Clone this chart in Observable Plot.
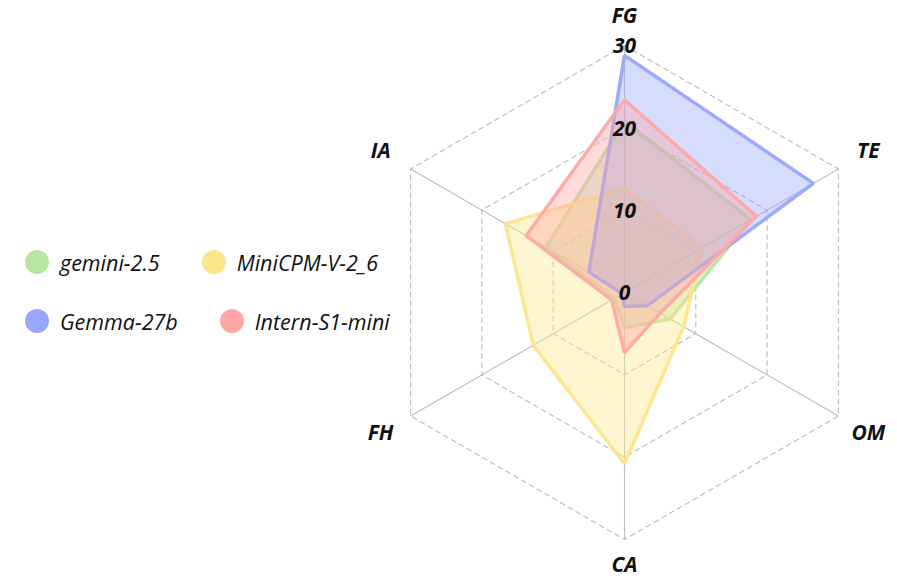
<!DOCTYPE html>
<html>
<head>
<meta charset="utf-8">
<script src="https://cdn.jsdelivr.net/npm/d3@7"></script>
<script src="https://cdn.jsdelivr.net/npm/@observablehq/plot@0.6"></script>
<style>
  html, body { margin: 0; padding: 0; background: #fff; }
  #wrap { position: relative; width: 897px; height: 580px; font-family: "Open Sans", sans-serif; }
  #legend { position: absolute; left: 25px; top: 246px; font-style: italic; font-size: 21.5px; color: #111; }
  .row { display: flex; align-items: center; height: 32px; margin-bottom: 27px; }
  .item { display: flex; align-items: center; margin-right: 42px; }
  .sw { width: 24px; height: 24px; border-radius: 50%; margin-right: 11px; }
</style>
</head>
<body>
<div id="wrap"></div>
<script>
const axesNames = ["FG", "TE", "OM", "CA", "FH", "IA"];
const axisAngles = [90, 30, -30, -90, -150, 150];
const seriesNames = ["gemini-2.5", "MiniCPM-V-2_6", "Gemma-27b", "Intern-S1-mini"];
const seriesColors = ["#b7e6a0", "#fde58c", "#97a7fb", "#ffa6a6"];
const gemini = [20.8, 17.7, 6.4, 4.3, 1.4, 11.0];
const minicpm = [12.6, 10.9, 8.3, 20.8, 12.8, 16.7];
const gemma = [28.8, 26.5, 3.2, 1.7, 0.3, 5.0];
const intern = [23.4, 18.5, 5.0, 7.3, 1.8, 13.8];
const gridLevels = [10, 20, 30];
const tickLabels = ["0", "10", "20", "30"];
const tickValues = [0, 10, 20, 30];
const maxValue = 30;

const W = 897, H = 580, cx = 624, cy = 292, Rpx = 247;
const k = Rpx / maxValue;
const rad = a => a * Math.PI / 180;
const polar = (r, i) => ({x: r * Math.cos(rad(axisAngles[i])), y: r * Math.sin(rad(axisAngles[i]))});
// label distance from centre (in value units): sides slightly farther, top/bottom kept inside the frame
const labelDist = i => axisAngles[i] === 90 ? 33.5 : axisAngles[i] === -90 ? 33.1 : 34.2;

const seriesValues = [gemini, minicpm, gemma, intern];
const polys = [];
seriesValues.forEach((vals, s) => {
  vals.forEach((v, i) => polys.push({series: seriesNames[s], ...polar(v, i)}));
});
const grid = [];
gridLevels.forEach(l => axesNames.forEach((a, i) => grid.push({level: l, ...polar(l, i)})));
const spokes = axesNames.map((a, i) => ({x1: 0, y1: 0, x2: polar(maxValue, i).x, y2: polar(maxValue, i).y}));
const labels = axesNames.map((a, i) => ({name: a, ...polar(labelDist(i), i)}));
const ticks = tickValues.map((v, i) => ({label: tickLabels[i], x: 0, y: v}));

const marks = [
  Plot.line(grid, {x: "x", y: "y", z: "level", curve: "linear-closed", stroke: "#bdbdbd", strokeWidth: 1.1, strokeDasharray: "5,4"}),
  Plot.link(spokes, {x1: "x1", y1: "y1", x2: "x2", y2: "y2", stroke: "#bdbdbd", strokeWidth: 1.1})
];
seriesNames.forEach((name, s) => {
  marks.push(Plot.line(polys.filter(d => d.series === name), {
    x: "x", y: "y", curve: "linear-closed",
    fill: seriesColors[s], fillOpacity: 0.4,
    stroke: seriesColors[s], strokeWidth: 3.5, strokeOpacity: 0.95, strokeLinejoin: "miter"
  }));
});
marks.push(Plot.text(ticks, {x: "x", y: "y", text: "label", fontSize: 21, fontWeight: "bold", fontStyle: "italic", fill: "#111", dy: 1}));
marks.push(Plot.text(labels, {x: "x", y: "y", text: "name", fontSize: 21, fontWeight: "bold", fontStyle: "italic", fill: "#111"}));

const chart = Plot.plot({
  width: W, height: H,
  margin: 0,
  style: {fontFamily: "'Open Sans', sans-serif", background: "transparent"},
  x: {domain: [-cx / k, (W - cx) / k], axis: null},
  y: {domain: [-(H - cy) / k, cy / k], axis: null},
  marks
});
const wrap = document.getElementById("wrap");
wrap.appendChild(chart);

const legend = document.createElement("div");
legend.id = "legend";
const rows = [[0, 1], [2, 3]];
rows.forEach(r => {
  const row = document.createElement("div");
  row.className = "row";
  r.forEach(s => {
    const it = document.createElement("div");
    it.className = "item";
    it.innerHTML = `<span class="sw" style="background:${seriesColors[s]}"></span><span>${seriesNames[s]}</span>`;
    row.appendChild(it);
  });
  legend.appendChild(row);
});
wrap.appendChild(legend);
</script>
</body>
</html>
